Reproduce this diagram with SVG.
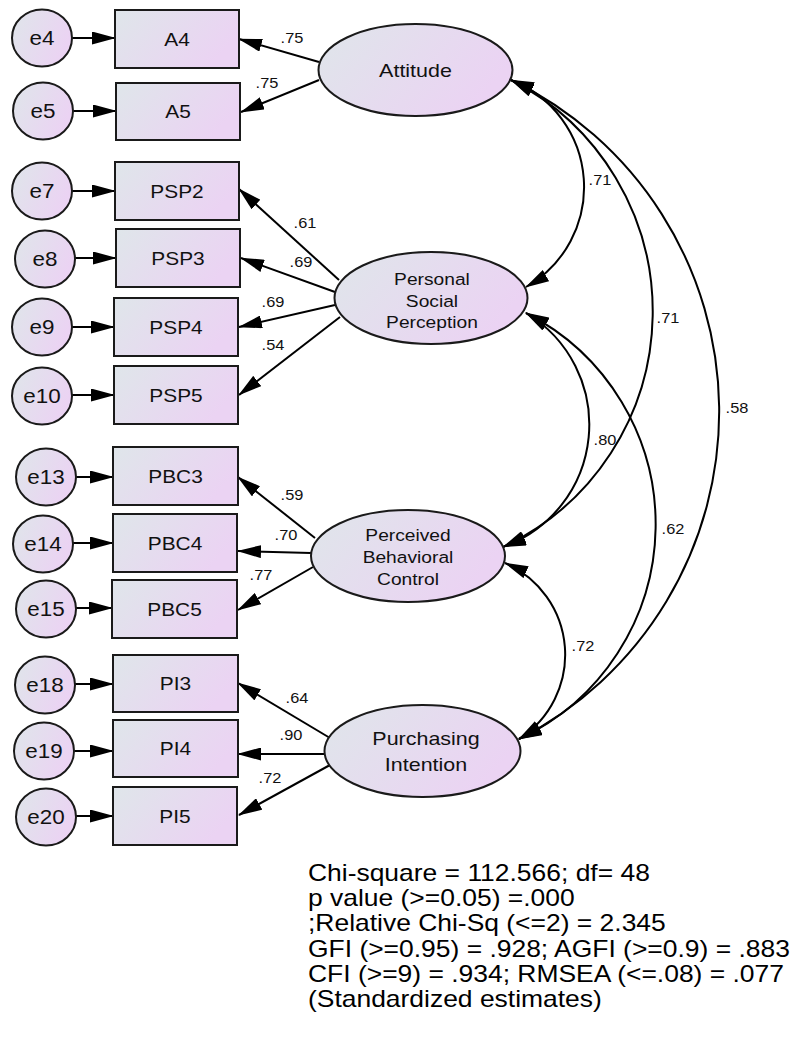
<svg xmlns="http://www.w3.org/2000/svg" width="794" height="1040" viewBox="0 0 794 1040">
<defs>
  <linearGradient id="fillBox" x1="0" y1="0" x2="1" y2="0.4">
    <stop offset="0" stop-color="#dfe6ea"/>
    <stop offset="1" stop-color="#ebd3f3"/>
  </linearGradient>
  <marker id="ah" viewBox="0 0 24 13" refX="23" refY="6.5" markerWidth="24" markerHeight="13" markerUnits="userSpaceOnUse" orient="auto-start-reverse">
    <path d="M0,0 L24,6.5 L0,13 Z" fill="#000"/>
  </marker>
</defs>
<style>
  .node { fill: url(#fillBox); stroke: #1a1a1a; stroke-width: 2; }
  .lbl { font-family: "Liberation Sans", Arial, sans-serif; font-size: 18.5px; text-anchor: middle; fill: #111; }
  .lbl2 { font-size: 17px; }
  .lbl3 { font-size: 19px; }
  .err { font-size: 19.5px; }
  .est { font-family: "Liberation Sans", Arial, sans-serif; font-size: 14.5px; text-anchor: middle; fill: #111; }
  .fit { font-family: "Liberation Sans", Arial, sans-serif; font-size: 23px; fill: #000; }
  .conn line, .conn path { stroke: #000; stroke-width: 2; fill: none; marker-end: url(#ah); }
  .conn .cov { marker-start: url(#ah); }
</style>

<!-- connectors: error terms, loadings, covariances -->
<g id="connectors" class="conn">
  <line x1="72" y1="38" x2="115" y2="38"/>
  <line x1="73" y1="111" x2="116" y2="111"/>
  <line x1="72" y1="191" x2="115" y2="191"/>
  <line x1="75" y1="258" x2="116" y2="258"/>
  <line x1="72" y1="327" x2="114" y2="327"/>
  <line x1="72" y1="395" x2="114" y2="395"/>
  <line x1="76" y1="477" x2="113" y2="477"/>
  <line x1="73" y1="543" x2="113" y2="543"/>
  <line x1="76" y1="608" x2="112" y2="608"/>
  <line x1="75" y1="684" x2="113" y2="684"/>
  <line x1="74" y1="751" x2="113" y2="751"/>
  <line x1="76" y1="816" x2="113" y2="816"/>

  <line x1="319" y1="62" x2="239" y2="39"/>
  <line x1="319" y1="80" x2="241" y2="112"/>
  <line x1="339" y1="280" x2="239" y2="189"/>
  <line x1="335" y1="292" x2="241" y2="258"/>
  <line x1="335" y1="305" x2="239" y2="327"/>
  <line x1="340" y1="317" x2="239" y2="395"/>
  <line x1="315" y1="538" x2="238" y2="477"/>
  <line x1="311" y1="553" x2="238" y2="551"/>
  <line x1="313" y1="567" x2="238" y2="610"/>
  <line x1="330" y1="738" x2="238" y2="683"/>
  <line x1="325" y1="754" x2="238" y2="754"/>
  <line x1="330" y1="765" x2="239" y2="815"/>

  <path class="cov" d="M511,80 A115,115 0 0 1 526,287"/>
  <path class="cov" d="M511,80 A260,260 0 0 1 503,547"/>
  <path class="cov" d="M511,80 A368,368 0 0 1 519,739"/>
  <path class="cov" d="M526,313 A130,130 0 0 1 503,547"/>
  <path class="cov" d="M526,313 A237,237 0 0 1 519,739"/>
  <path class="cov" d="M505,563 A100,100 0 0 1 519,739"/>
</g>

<!-- estimate labels -->
<g id="estimates" class="est">
  <text transform="matrix(1.13 0 0 1 292 43)">.75</text>
  <text transform="matrix(1.13 0 0 1 267 88)">.75</text>
  <text transform="matrix(1.13 0 0 1 305 228)">.61</text>
  <text transform="matrix(1.13 0 0 1 301 267)">.69</text>
  <text transform="matrix(1.13 0 0 1 273 307)">.69</text>
  <text transform="matrix(1.13 0 0 1 273 350)">.54</text>
  <text transform="matrix(1.13 0 0 1 292 500)">.59</text>
  <text transform="matrix(1.13 0 0 1 286 540)">.70</text>
  <text transform="matrix(1.13 0 0 1 261 580)">.77</text>
  <text transform="matrix(1.13 0 0 1 297 703)">.64</text>
  <text transform="matrix(1.13 0 0 1 291 740)">.90</text>
  <text transform="matrix(1.13 0 0 1 270 783)">.72</text>
  <text transform="matrix(1.13 0 0 1 600 185)">.71</text>
  <text transform="matrix(1.13 0 0 1 668 323)">.71</text>
  <text transform="matrix(1.13 0 0 1 737 413)">.58</text>
  <text transform="matrix(1.13 0 0 1 605 445)">.80</text>
  <text transform="matrix(1.13 0 0 1 673 534)">.62</text>
  <text transform="matrix(1.13 0 0 1 583 651)">.72</text>
</g>

<!-- error terms -->
<g id="e4"><ellipse class="node" cx="42" cy="38" rx="30" ry="28.5"/><text class="lbl err" transform="matrix(1.15 0 0 1 42 45)">e4</text></g>
<g id="e5"><ellipse class="node" cx="43" cy="111" rx="30" ry="28.5"/><text class="lbl err" transform="matrix(1.15 0 0 1 43 118)">e5</text></g>
<g id="e7"><ellipse class="node" cx="42" cy="191" rx="30" ry="28.5"/><text class="lbl err" transform="matrix(1.15 0 0 1 42 198)">e7</text></g>
<g id="e8"><ellipse class="node" cx="45" cy="259" rx="30" ry="28.5"/><text class="lbl err" transform="matrix(1.15 0 0 1 45 266)">e8</text></g>
<g id="e9"><ellipse class="node" cx="42" cy="327" rx="30" ry="28.5"/><text class="lbl err" transform="matrix(1.15 0 0 1 42 334)">e9</text></g>
<g id="e10"><ellipse class="node" cx="42" cy="396" rx="30" ry="28.5"/><text class="lbl err" transform="matrix(1.15 0 0 1 42 403)">e10</text></g>
<g id="e13"><ellipse class="node" cx="46" cy="477" rx="30" ry="28.5"/><text class="lbl err" transform="matrix(1.15 0 0 1 46 484)">e13</text></g>
<g id="e14"><ellipse class="node" cx="43" cy="544" rx="30" ry="28.5"/><text class="lbl err" transform="matrix(1.15 0 0 1 43 551)">e14</text></g>
<g id="e15"><ellipse class="node" cx="46" cy="609" rx="30" ry="28.5"/><text class="lbl err" transform="matrix(1.15 0 0 1 46 616)">e15</text></g>
<g id="e18"><ellipse class="node" cx="45" cy="685" rx="30" ry="28.5"/><text class="lbl err" transform="matrix(1.15 0 0 1 45 692)">e18</text></g>
<g id="e19"><ellipse class="node" cx="44" cy="751" rx="30" ry="28.5"/><text class="lbl err" transform="matrix(1.15 0 0 1 44 758)">e19</text></g>
<g id="e20"><ellipse class="node" cx="46" cy="817" rx="30" ry="28.5"/><text class="lbl err" transform="matrix(1.15 0 0 1 46 824)">e20</text></g>

<!-- observed indicators -->
<g id="A4"><rect class="node" x="115" y="10" width="124" height="58"/><text class="lbl" transform="matrix(1.13 0 0 1 177 45.5)">A4</text></g>
<g id="A5"><rect class="node" x="116" y="83" width="124" height="57"/><text class="lbl" transform="matrix(1.13 0 0 1 178 118)">A5</text></g>
<g id="PSP2"><rect class="node" x="115" y="162" width="124" height="58"/><text class="lbl" transform="matrix(1.13 0 0 1 177 197.5)">PSP2</text></g>
<g id="PSP3"><rect class="node" x="116" y="229" width="124" height="58"/><text class="lbl" transform="matrix(1.13 0 0 1 178 264.5)">PSP3</text></g>
<g id="PSP4"><rect class="node" x="114" y="298" width="124" height="58"/><text class="lbl" transform="matrix(1.13 0 0 1 176 333.5)">PSP4</text></g>
<g id="PSP5"><rect class="node" x="114" y="366" width="124" height="58"/><text class="lbl" transform="matrix(1.13 0 0 1 176 401.5)">PSP5</text></g>
<g id="PBC3"><rect class="node" x="113" y="447" width="125" height="58"/><text class="lbl" transform="matrix(1.13 0 0 1 175.5 482.5)">PBC3</text></g>
<g id="PBC4"><rect class="node" x="113" y="514" width="124" height="58"/><text class="lbl" transform="matrix(1.13 0 0 1 175 549.5)">PBC4</text></g>
<g id="PBC5"><rect class="node" x="112" y="580" width="125" height="58"/><text class="lbl" transform="matrix(1.13 0 0 1 174.5 615.5)">PBC5</text></g>
<g id="PI3"><rect class="node" x="113" y="655" width="125" height="57"/><text class="lbl" transform="matrix(1.13 0 0 1 175.5 690)">PI3</text></g>
<g id="PI4"><rect class="node" x="113" y="720" width="125" height="57"/><text class="lbl" transform="matrix(1.13 0 0 1 175.5 755)">PI4</text></g>
<g id="PI5"><rect class="node" x="113" y="787" width="124" height="58"/><text class="lbl" transform="matrix(1.13 0 0 1 175 822.5)">PI5</text></g>

<!-- latent constructs -->
<g id="Attitude"><ellipse class="node" cx="415.5" cy="70" rx="97" ry="46"/><text class="lbl lbl3" transform="matrix(1.13 0 0 1 415.5 77)">Attitude</text></g>
<g id="PSP"><ellipse class="node" cx="431" cy="298" rx="96.5" ry="46"/>
  <text class="lbl lbl2" transform="matrix(1.13 0 0 1 432 0)"><tspan x="0" y="285">Personal</tspan><tspan x="0" y="307">Social</tspan><tspan x="0" y="328">Perception</tspan></text></g>
<g id="PBC"><ellipse class="node" cx="408" cy="556" rx="97" ry="46"/>
  <text class="lbl lbl2" transform="matrix(1.13 0 0 1 408 0)"><tspan x="0" y="541">Perceived</tspan><tspan x="0" y="563">Behavioral</tspan><tspan x="0" y="585">Control</tspan></text></g>
<g id="PI"><ellipse class="node" cx="422.5" cy="751" rx="98" ry="46"/>
  <text class="lbl lbl3" transform="matrix(1.13 0 0 1 426 0)"><tspan x="0" y="745">Purchasing</tspan><tspan x="0" y="771">Intention</tspan></text></g>

<!-- model fit summary -->
<text class="fit" transform="matrix(1.15 0 0 1 308 0)">
  <tspan x="0" y="881">Chi-square = 112.566; df= 48</tspan>
  <tspan x="0" y="906">p value (&gt;=0.05) =.000</tspan>
  <tspan x="0" y="931">;Relative Chi-Sq (&lt;=2) = 2.345</tspan>
  <tspan x="0" y="957">GFI (&gt;=0.95) = .928; AGFI (&gt;=0.9) = .883</tspan>
  <tspan x="0" y="982">CFI (&gt;=9) = .934; RMSEA (&lt;=.08) = .077</tspan>
  <tspan x="0" y="1007">(Standardized estimates)</tspan>
</text>
</svg>
